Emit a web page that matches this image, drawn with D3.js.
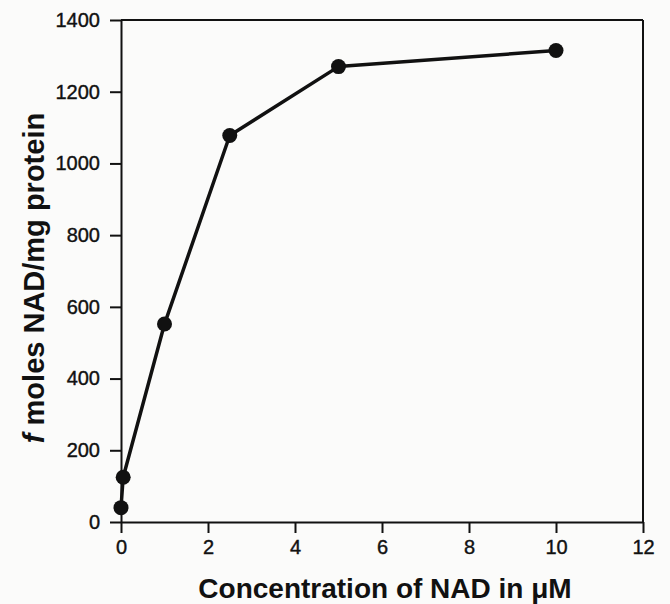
<!DOCTYPE html>
<html lang="en">
<head>
<meta charset="UTF-8"/>
<title>NAD binding</title>
<script src="https://d3js.org/d3.v7.min.js"></script>
<style>
  body { margin: 0; background: #fbfbfa; }
  svg { display: block; }
  .title { font-family: "Liberation Sans", Arial, sans-serif; font-weight: bold; fill: #111; }
</style>
</head>
<body>
<script>
var w = 670;
var h = 604;
var margin = {top: 20, right: 27, bottom: 82, left: 121};

// concentration of NAD (uM) and fmoles NAD / mg protein
var conc   = [0, 0.05, 1, 2.5, 5, 10];
var fmoles = [40, 125, 552, 1078, 1270, 1315];
var xTicks = [0, 2, 4, 6, 8, 10, 12];
var yTicks = [0, 200, 400, 600, 800, 1000, 1200, 1400];

var dataset = conc.map(function(c, i) { return [c, fmoles[i]]; });

var xScale = d3.scaleLinear()
    .domain([0, 12])
    .range([margin.left, w - margin.right]);

var yScale = d3.scaleLinear()
    .domain([0, 1400])
    .range([h - margin.bottom, margin.top]);

var svg = d3.select("body")
    .append("svg")
    .attr("width", w)
    .attr("height", h);

// frame: top and right lines
svg.append("line")
    .attr("x1", xScale(0)).attr("x2", xScale(12))
    .attr("y1", yScale(1400)).attr("y2", yScale(1400))
    .attr("stroke", "#111").attr("stroke-width", 2);
svg.append("line")
    .attr("x1", xScale(12)).attr("x2", xScale(12))
    .attr("y1", yScale(1400)).attr("y2", yScale(0))
    .attr("stroke", "#111").attr("stroke-width", 2);

svg.append("g")
    .attr("transform", "translate(0," + yScale(0) + ")")
    .call(d3.axisBottom(xScale).tickValues(xTicks).tickFormat(d3.format("d"))
        .tickSize(11).tickPadding(7).tickSizeOuter(0));

svg.append("g")
    .attr("transform", "translate(" + xScale(0) + ",0)")
    .call(d3.axisLeft(yScale).tickValues(yTicks).tickFormat(d3.format("d"))
        .tickSize(11).tickPadding(10).tickSizeOuter(0));

svg.selectAll(".domain, .tick line")
    .attr("stroke", "#111")
    .attr("stroke-width", 2);

svg.selectAll(".tick text")
    .attr("font-family", "'Liberation Sans', Arial, sans-serif")
    .attr("font-size", 20)
    .attr("fill", "#111")
    .attr("stroke", "#111")
    .attr("stroke-width", 0.4);

// line through the points
var line = d3.line()
    .x(function(d) { return xScale(d[0]); })
    .y(function(d) { return yScale(d[1]); });

svg.append("path")
    .datum(dataset)
    .attr("d", line)
    .attr("fill", "none")
    .attr("stroke", "#111")
    .attr("stroke-width", 3.5)
    .attr("stroke-linejoin", "round");

svg.selectAll("circle")
    .data(dataset)
    .enter()
    .append("circle")
    .attr("cx", function(d) { return xScale(d[0]); })
    .attr("cy", function(d) { return yScale(d[1]); })
    .attr("r", 7.5)
    .attr("fill", "#111");

// axis titles
svg.append("text")
    .attr("class", "title")
    .attr("x", 385)
    .attr("y", 598)
    .attr("text-anchor", "middle")
    .attr("font-size", 28)
    .text("Concentration of NAD in \u03bcM");

var yt = svg.append("text")
    .attr("class", "title")
    .attr("transform", "translate(44,278) rotate(-90)")
    .attr("text-anchor", "middle")
    .attr("font-size", 29);
yt.append("tspan").attr("font-style", "italic").text("f");
yt.append("tspan").text(" moles NAD/mg protein");
</script>
</body>
</html>
